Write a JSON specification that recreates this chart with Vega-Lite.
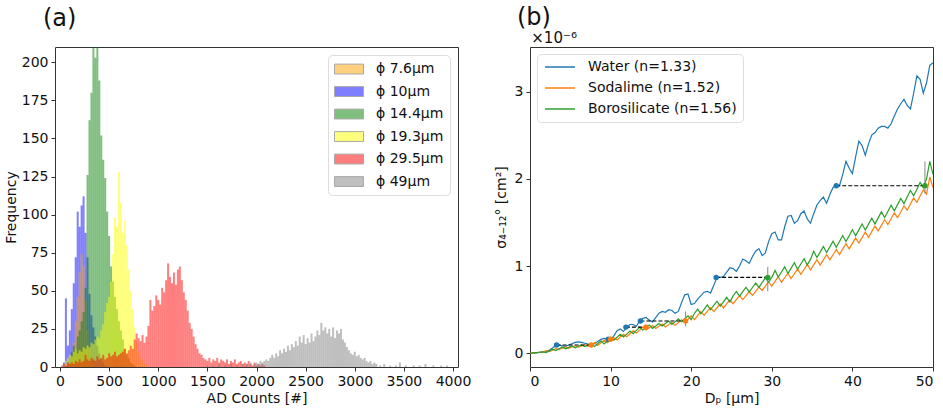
{
"$schema": "https://vega.github.io/schema/vega-lite/v6.json",
"background": "white",
"padding": {"left": 3, "top": 5, "right": 0, "bottom": 5},
"spacing": 21,
"config": {
  "font": "DejaVu Sans",
  "view": {"stroke": "#333", "strokeWidth": 1},
  "axis": {"grid": false, "domain": false, "tickColor": "#333", "tickSize": 4, "labelFontSize": 14, "labelColor": "#111", "titleFontSize": 14, "titleFontWeight": "normal", "titleColor": "#111", "labelPadding": 3, "titlePadding": 4},
  "title": {"fontWeight": "normal", "color": "#111", "subtitleColor": "#111"}
},
"datasets": {
  "hist": [
{"d":"10","b":40,"c":3},{"d":"10","b":60,"c":45},{"d":"10","b":80,"c":14},{"d":"10","b":100,"c":24},{"d":"10","b":120,"c":38},{"d":"10","b":140,"c":55},{"d":"10","b":160,"c":72},{"d":"10","b":180,"c":102},{"d":"10","b":200,"c":92},{"d":"10","b":220,"c":106},{"d":"10","b":240,"c":112},{"d":"10","b":260,"c":88},{"d":"10","b":280,"c":72},{"d":"10","b":300,"c":48},{"d":"10","b":320,"c":34},{"d":"10","b":340,"c":26},{"d":"10","b":360,"c":20},{"d":"10","b":380,"c":14},{"d":"10","b":400,"c":9},{"d":"10","b":420,"c":5},{"d":"10","b":440,"c":3},{"d":"10","b":460,"c":1},
{"d":"7.6","b":100,"c":4},{"d":"7.6","b":120,"c":8},{"d":"7.6","b":140,"c":16},{"d":"7.6","b":160,"c":30},{"d":"7.6","b":180,"c":46},{"d":"7.6","b":200,"c":62},{"d":"7.6","b":220,"c":74},{"d":"7.6","b":240,"c":66},{"d":"7.6","b":260,"c":44},{"d":"7.6","b":280,"c":24},{"d":"7.6","b":300,"c":12},{"d":"7.6","b":320,"c":6},{"d":"7.6","b":340,"c":2},
{"d":"14.4","b":80,"c":3},{"d":"14.4","b":100,"c":6},{"d":"14.4","b":120,"c":10},{"d":"14.4","b":140,"c":14},{"d":"14.4","b":160,"c":12},{"d":"14.4","b":180,"c":20},{"d":"14.4","b":200,"c":24},{"d":"14.4","b":220,"c":30},{"d":"14.4","b":240,"c":36},{"d":"14.4","b":260,"c":52},{"d":"14.4","b":280,"c":126},{"d":"14.4","b":300,"c":162},{"d":"14.4","b":320,"c":180},{"d":"14.4","b":340,"c":215},{"d":"14.4","b":360,"c":203},{"d":"14.4","b":380,"c":215},{"d":"14.4","b":400,"c":188},{"d":"14.4","b":420,"c":152},{"d":"14.4","b":440,"c":136},{"d":"14.4","b":460,"c":124},{"d":"14.4","b":480,"c":102},{"d":"14.4","b":500,"c":86},{"d":"14.4","b":520,"c":66},{"d":"14.4","b":540,"c":56},{"d":"14.4","b":560,"c":46},{"d":"14.4","b":580,"c":38},{"d":"14.4","b":600,"c":30},{"d":"14.4","b":620,"c":24},{"d":"14.4","b":640,"c":18},{"d":"14.4","b":660,"c":12},{"d":"14.4","b":680,"c":8},{"d":"14.4","b":700,"c":6},{"d":"14.4","b":720,"c":3},{"d":"14.4","b":740,"c":2},{"d":"14.4","b":760,"c":1},
{"d":"19.3","b":40,"c":2},{"d":"19.3","b":60,"c":4},{"d":"19.3","b":80,"c":6},{"d":"19.3","b":100,"c":8},{"d":"19.3","b":120,"c":7},{"d":"19.3","b":140,"c":10},{"d":"19.3","b":160,"c":12},{"d":"19.3","b":180,"c":9},{"d":"19.3","b":200,"c":11},{"d":"19.3","b":220,"c":10},{"d":"19.3","b":240,"c":13},{"d":"19.3","b":260,"c":12},{"d":"19.3","b":280,"c":14},{"d":"19.3","b":300,"c":13},{"d":"19.3","b":320,"c":16},{"d":"19.3","b":340,"c":15},{"d":"19.3","b":360,"c":18},{"d":"19.3","b":380,"c":20},{"d":"19.3","b":400,"c":19},{"d":"19.3","b":420,"c":24},{"d":"19.3","b":440,"c":28},{"d":"19.3","b":460,"c":36},{"d":"19.3","b":480,"c":42},{"d":"19.3","b":500,"c":46},{"d":"19.3","b":520,"c":56},{"d":"19.3","b":540,"c":74},{"d":"19.3","b":560,"c":98},{"d":"19.3","b":580,"c":92},{"d":"19.3","b":600,"c":128},{"d":"19.3","b":620,"c":108},{"d":"19.3","b":640,"c":88},{"d":"19.3","b":660,"c":96},{"d":"19.3","b":680,"c":80},{"d":"19.3","b":700,"c":64},{"d":"19.3","b":720,"c":50},{"d":"19.3","b":740,"c":38},{"d":"19.3","b":760,"c":26},{"d":"19.3","b":780,"c":16},{"d":"19.3","b":800,"c":10},{"d":"19.3","b":820,"c":6},{"d":"19.3","b":840,"c":4},{"d":"19.3","b":860,"c":2},{"d":"19.3","b":880,"c":1},
{"d":"29.5","b":20,"c":1},{"d":"29.5","b":40,"c":2},{"d":"29.5","b":60,"c":1},{"d":"29.5","b":80,"c":3},{"d":"29.5","b":100,"c":2},{"d":"29.5","b":120,"c":3},{"d":"29.5","b":140,"c":2},{"d":"29.5","b":160,"c":4},{"d":"29.5","b":180,"c":3},{"d":"29.5","b":200,"c":5},{"d":"29.5","b":220,"c":3},{"d":"29.5","b":240,"c":4},{"d":"29.5","b":260,"c":8},{"d":"29.5","b":280,"c":5},{"d":"29.5","b":300,"c":4},{"d":"29.5","b":320,"c":6},{"d":"29.5","b":340,"c":5},{"d":"29.5","b":360,"c":4},{"d":"29.5","b":380,"c":7},{"d":"29.5","b":400,"c":5},{"d":"29.5","b":420,"c":6},{"d":"29.5","b":440,"c":8},{"d":"29.5","b":460,"c":5},{"d":"29.5","b":480,"c":6},{"d":"29.5","b":500,"c":9},{"d":"29.5","b":520,"c":7},{"d":"29.5","b":540,"c":8},{"d":"29.5","b":560,"c":10},{"d":"29.5","b":580,"c":7},{"d":"29.5","b":600,"c":8},{"d":"29.5","b":620,"c":9},{"d":"29.5","b":640,"c":10},{"d":"29.5","b":660,"c":12},{"d":"29.5","b":680,"c":9},{"d":"29.5","b":700,"c":11},{"d":"29.5","b":720,"c":14},{"d":"29.5","b":740,"c":12},{"d":"29.5","b":760,"c":18},{"d":"29.5","b":780,"c":22},{"d":"29.5","b":800,"c":19},{"d":"29.5","b":820,"c":17},{"d":"29.5","b":840,"c":21},{"d":"29.5","b":860,"c":16},{"d":"29.5","b":880,"c":20},{"d":"29.5","b":900,"c":27},{"d":"29.5","b":920,"c":44},{"d":"29.5","b":940,"c":37},{"d":"29.5","b":960,"c":40},{"d":"29.5","b":980,"c":47},{"d":"29.5","b":1000,"c":44},{"d":"29.5","b":1020,"c":41},{"d":"29.5","b":1040,"c":52},{"d":"29.5","b":1060,"c":49},{"d":"29.5","b":1080,"c":57},{"d":"29.5","b":1100,"c":68},{"d":"29.5","b":1120,"c":59},{"d":"29.5","b":1140,"c":55},{"d":"29.5","b":1160,"c":62},{"d":"29.5","b":1180,"c":54},{"d":"29.5","b":1200,"c":64},{"d":"29.5","b":1220,"c":66},{"d":"29.5","b":1240,"c":57},{"d":"29.5","b":1260,"c":49},{"d":"29.5","b":1280,"c":44},{"d":"29.5","b":1300,"c":37},{"d":"29.5","b":1320,"c":29},{"d":"29.5","b":1340,"c":25},{"d":"29.5","b":1360,"c":20},{"d":"29.5","b":1380,"c":15},{"d":"29.5","b":1400,"c":12},{"d":"29.5","b":1420,"c":9},{"d":"29.5","b":1440,"c":8},{"d":"29.5","b":1460,"c":6},{"d":"29.5","b":1480,"c":5},{"d":"29.5","b":1500,"c":4},{"d":"29.5","b":1520,"c":6},{"d":"29.5","b":1540,"c":3},{"d":"29.5","b":1560,"c":5},{"d":"29.5","b":1580,"c":4},{"d":"29.5","b":1600,"c":6},{"d":"29.5","b":1620,"c":3},{"d":"29.5","b":1640,"c":5},{"d":"29.5","b":1660,"c":4},{"d":"29.5","b":1680,"c":3},{"d":"29.5","b":1700,"c":5},{"d":"29.5","b":1720,"c":2},{"d":"29.5","b":1740,"c":4},{"d":"29.5","b":1760,"c":3},{"d":"29.5","b":1780,"c":5},{"d":"29.5","b":1800,"c":2},{"d":"29.5","b":1820,"c":3},{"d":"29.5","b":1840,"c":4},{"d":"29.5","b":1860,"c":2},{"d":"29.5","b":1880,"c":3},{"d":"29.5","b":1900,"c":2},{"d":"29.5","b":1920,"c":4},{"d":"29.5","b":1940,"c":2},{"d":"29.5","b":1960,"c":1},{"d":"29.5","b":1980,"c":3},{"d":"29.5","b":2000,"c":1},{"d":"29.5","b":2020,"c":2},{"d":"29.5","b":2040,"c":1},{"d":"29.5","b":2060,"c":2},{"d":"29.5","b":2080,"c":1},
{"d":"49","b":1500,"c":1},{"d":"49","b":1560,"c":1},{"d":"49","b":1620,"c":2},{"d":"49","b":1680,"c":1},{"d":"49","b":1740,"c":2},{"d":"49","b":1800,"c":1},{"d":"49","b":1860,"c":2},{"d":"49","b":1900,"c":2},{"d":"49","b":1940,"c":3},{"d":"49","b":1980,"c":2},{"d":"49","b":2000,"c":3},{"d":"49","b":2020,"c":2},{"d":"49","b":2040,"c":4},{"d":"49","b":2060,"c":3},{"d":"49","b":2080,"c":4},{"d":"49","b":2100,"c":5},{"d":"49","b":2120,"c":4},{"d":"49","b":2140,"c":6},{"d":"49","b":2160,"c":8},{"d":"49","b":2180,"c":6},{"d":"49","b":2200,"c":9},{"d":"49","b":2220,"c":7},{"d":"49","b":2240,"c":11},{"d":"49","b":2260,"c":9},{"d":"49","b":2280,"c":12},{"d":"49","b":2300,"c":10},{"d":"49","b":2320,"c":14},{"d":"49","b":2340,"c":11},{"d":"49","b":2360,"c":15},{"d":"49","b":2380,"c":13},{"d":"49","b":2400,"c":17},{"d":"49","b":2420,"c":14},{"d":"49","b":2440,"c":20},{"d":"49","b":2460,"c":16},{"d":"49","b":2480,"c":21},{"d":"49","b":2500,"c":15},{"d":"49","b":2520,"c":19},{"d":"49","b":2540,"c":16},{"d":"49","b":2560,"c":22},{"d":"49","b":2580,"c":17},{"d":"49","b":2600,"c":20},{"d":"49","b":2620,"c":24},{"d":"49","b":2640,"c":21},{"d":"49","b":2660,"c":29},{"d":"49","b":2680,"c":24},{"d":"49","b":2700,"c":26},{"d":"49","b":2720,"c":22},{"d":"49","b":2740,"c":25},{"d":"49","b":2760,"c":20},{"d":"49","b":2780,"c":26},{"d":"49","b":2800,"c":19},{"d":"49","b":2820,"c":24},{"d":"49","b":2840,"c":22},{"d":"49","b":2860,"c":25},{"d":"49","b":2880,"c":18},{"d":"49","b":2900,"c":16},{"d":"49","b":2920,"c":13},{"d":"49","b":2940,"c":11},{"d":"49","b":2960,"c":9},{"d":"49","b":2980,"c":8},{"d":"49","b":3000,"c":10},{"d":"49","b":3020,"c":7},{"d":"49","b":3040,"c":8},{"d":"49","b":3060,"c":6},{"d":"49","b":3080,"c":5},{"d":"49","b":3100,"c":6},{"d":"49","b":3120,"c":4},{"d":"49","b":3140,"c":3},{"d":"49","b":3160,"c":4},{"d":"49","b":3180,"c":2},{"d":"49","b":3200,"c":3},{"d":"49","b":3220,"c":2},{"d":"49","b":3260,"c":1},{"d":"49","b":3300,"c":2},{"d":"49","b":3360,"c":1},{"d":"49","b":3420,"c":1},{"d":"49","b":3460,"c":3},{"d":"49","b":3520,"c":1},{"d":"49","b":3600,"c":1},{"d":"49","b":3660,"c":1},{"d":"49","b":3720,"c":2},{"d":"49","b":3800,"c":1},{"d":"49","b":3880,"c":1},{"d":"49","b":3940,"c":1}
  ],
  "curves": [
{"s":"W","x":0,"y":0},{"s":"W","x":0.4,"y":0.002},{"s":"W","x":0.8,"y":0.005},{"s":"W","x":1.2,"y":0.01},{"s":"W","x":1.6,"y":0.015},{"s":"W","x":2,"y":0.02},{"s":"W","x":2.4,"y":0.035},{"s":"W","x":2.8,"y":0.06},{"s":"W","x":3.2,"y":0.09},{"s":"W","x":3.6,"y":0.095},{"s":"W","x":4,"y":0.085},{"s":"W","x":4.4,"y":0.08},{"s":"W","x":4.8,"y":0.095},{"s":"W","x":5.2,"y":0.11},{"s":"W","x":5.6,"y":0.125},{"s":"W","x":6,"y":0.13},{"s":"W","x":6.4,"y":0.125},{"s":"W","x":6.8,"y":0.115},{"s":"W","x":7.2,"y":0.105},{"s":"W","x":7.6,"y":0.1},{"s":"W","x":8,"y":0.11},{"s":"W","x":8.4,"y":0.135},{"s":"W","x":8.8,"y":0.16},{"s":"W","x":9.2,"y":0.17},{"s":"W","x":9.6,"y":0.16},{"s":"W","x":10,"y":0.155},{"s":"W","x":10.4,"y":0.2},{"s":"W","x":10.8,"y":0.26},{"s":"W","x":11.2,"y":0.28},{"s":"W","x":11.6,"y":0.25},{"s":"W","x":12,"y":0.3},{"s":"W","x":12.4,"y":0.33},{"s":"W","x":12.8,"y":0.33},{"s":"W","x":13.2,"y":0.31},{"s":"W","x":13.6,"y":0.37},{"s":"W","x":14,"y":0.4},{"s":"W","x":14.4,"y":0.41},{"s":"W","x":14.8,"y":0.38},{"s":"W","x":15.2,"y":0.36},{"s":"W","x":15.6,"y":0.41},{"s":"W","x":16,"y":0.46},{"s":"W","x":16.4,"y":0.48},{"s":"W","x":16.8,"y":0.47},{"s":"W","x":17.2,"y":0.5},{"s":"W","x":17.6,"y":0.49},{"s":"W","x":18,"y":0.46},{"s":"W","x":18.4,"y":0.48},{"s":"W","x":18.8,"y":0.58},{"s":"W","x":19.2,"y":0.67},{"s":"W","x":19.6,"y":0.68},{"s":"W","x":20,"y":0.56},{"s":"W","x":20.4,"y":0.57},{"s":"W","x":20.8,"y":0.62},{"s":"W","x":21.2,"y":0.66},{"s":"W","x":21.6,"y":0.7},{"s":"W","x":22,"y":0.71},{"s":"W","x":22.4,"y":0.69},{"s":"W","x":22.8,"y":0.78},{"s":"W","x":23.2,"y":0.87},{"s":"W","x":23.6,"y":0.87},{"s":"W","x":24,"y":0.88},{"s":"W","x":24.4,"y":0.93},{"s":"W","x":24.8,"y":0.98},{"s":"W","x":25.2,"y":0.97},{"s":"W","x":25.6,"y":0.94},{"s":"W","x":26,"y":1.0},{"s":"W","x":26.4,"y":1.08},{"s":"W","x":26.8,"y":1.06},{"s":"W","x":27.2,"y":1.03},{"s":"W","x":27.6,"y":1.11},{"s":"W","x":28,"y":1.17},{"s":"W","x":28.4,"y":1.2},{"s":"W","x":28.8,"y":1.12},{"s":"W","x":29.2,"y":1.15},{"s":"W","x":29.6,"y":1.28},{"s":"W","x":30,"y":1.37},{"s":"W","x":30.4,"y":1.39},{"s":"W","x":30.8,"y":1.3},{"s":"W","x":31.2,"y":1.3},{"s":"W","x":31.6,"y":1.45},{"s":"W","x":32,"y":1.57},{"s":"W","x":32.4,"y":1.58},{"s":"W","x":32.8,"y":1.49},{"s":"W","x":33.2,"y":1.52},{"s":"W","x":33.6,"y":1.6},{"s":"W","x":34,"y":1.63},{"s":"W","x":34.4,"y":1.54},{"s":"W","x":34.8,"y":1.49},{"s":"W","x":35.2,"y":1.6},{"s":"W","x":35.6,"y":1.7},{"s":"W","x":36,"y":1.75},{"s":"W","x":36.4,"y":1.79},{"s":"W","x":36.8,"y":1.72},{"s":"W","x":37.2,"y":1.82},{"s":"W","x":37.6,"y":1.9},{"s":"W","x":38,"y":1.93},{"s":"W","x":38.4,"y":1.92},{"s":"W","x":38.8,"y":2.05},{"s":"W","x":39.2,"y":2.2},{"s":"W","x":39.6,"y":2.12},{"s":"W","x":40,"y":2.06},{"s":"W","x":40.4,"y":2.25},{"s":"W","x":40.8,"y":2.43},{"s":"W","x":41.2,"y":2.38},{"s":"W","x":41.6,"y":2.27},{"s":"W","x":42,"y":2.4},{"s":"W","x":42.4,"y":2.5},{"s":"W","x":42.8,"y":2.53},{"s":"W","x":43.2,"y":2.58},{"s":"W","x":43.6,"y":2.6},{"s":"W","x":44,"y":2.6},{"s":"W","x":44.4,"y":2.58},{"s":"W","x":44.8,"y":2.63},{"s":"W","x":45.2,"y":2.72},{"s":"W","x":45.6,"y":2.8},{"s":"W","x":46,"y":2.86},{"s":"W","x":46.4,"y":2.91},{"s":"W","x":46.8,"y":2.84},{"s":"W","x":47.2,"y":2.8},{"s":"W","x":47.6,"y":2.98},{"s":"W","x":48,"y":3.18},{"s":"W","x":48.4,"y":3.14},{"s":"W","x":48.8,"y":2.98},{"s":"W","x":49.2,"y":3.1},{"s":"W","x":49.6,"y":3.3},{"s":"W","x":50,"y":3.33},
{"s":"S","x":0,"y":0},{"s":"S","x":0.4,"y":0.004},{"s":"S","x":0.8,"y":0.008},{"s":"S","x":1.2,"y":0.012},{"s":"S","x":1.6,"y":0.016},{"s":"S","x":2,"y":0.03},{"s":"S","x":2.4,"y":0.018},{"s":"S","x":2.8,"y":0.036},{"s":"S","x":3.2,"y":0.054},{"s":"S","x":3.6,"y":0.042},{"s":"S","x":4,"y":0.06},{"s":"S","x":4.4,"y":0.074},{"s":"S","x":4.8,"y":0.058},{"s":"S","x":5.2,"y":0.072},{"s":"S","x":5.6,"y":0.086},{"s":"S","x":6,"y":0.07},{"s":"S","x":6.4,"y":0.084},{"s":"S","x":6.8,"y":0.098},{"s":"S","x":7.2,"y":0.082},{"s":"S","x":7.6,"y":0.096},{"s":"S","x":8,"y":0.12},{"s":"S","x":8.4,"y":0.09},{"s":"S","x":8.8,"y":0.12},{"s":"S","x":9.2,"y":0.15},{"s":"S","x":9.6,"y":0.12},{"s":"S","x":10,"y":0.15},{"s":"S","x":10.4,"y":0.182},{"s":"S","x":10.8,"y":0.154},{"s":"S","x":11.2,"y":0.186},{"s":"S","x":11.6,"y":0.218},{"s":"S","x":12,"y":0.19},{"s":"S","x":12.4,"y":0.224},{"s":"S","x":12.8,"y":0.258},{"s":"S","x":13.2,"y":0.232},{"s":"S","x":13.6,"y":0.266},{"s":"S","x":14,"y":0.3},{"s":"S","x":14.4,"y":0.266},{"s":"S","x":14.8,"y":0.292},{"s":"S","x":15.2,"y":0.318},{"s":"S","x":15.6,"y":0.284},{"s":"S","x":16,"y":0.31},{"s":"S","x":16.4,"y":0.336},{"s":"S","x":16.8,"y":0.302},{"s":"S","x":17.2,"y":0.328},{"s":"S","x":17.6,"y":0.354},{"s":"S","x":18,"y":0.32},{"s":"S","x":18.4,"y":0.352},{"s":"S","x":18.8,"y":0.384},{"s":"S","x":19.2,"y":0.356},{"s":"S","x":19.6,"y":0.388},{"s":"S","x":20,"y":0.43},{"s":"S","x":20.4,"y":0.386},{"s":"S","x":20.8,"y":0.432},{"s":"S","x":21.2,"y":0.478},{"s":"S","x":21.6,"y":0.434},{"s":"S","x":22,"y":0.48},{"s":"S","x":22.4,"y":0.524},{"s":"S","x":22.8,"y":0.478},{"s":"S","x":23.2,"y":0.522},{"s":"S","x":23.6,"y":0.566},{"s":"S","x":24,"y":0.52},{"s":"S","x":24.4,"y":0.566},{"s":"S","x":24.8,"y":0.612},{"s":"S","x":25.2,"y":0.568},{"s":"S","x":25.6,"y":0.614},{"s":"S","x":26,"y":0.66},{"s":"S","x":26.4,"y":0.616},{"s":"S","x":26.8,"y":0.662},{"s":"S","x":27.2,"y":0.708},{"s":"S","x":27.6,"y":0.664},{"s":"S","x":28,"y":0.71},{"s":"S","x":28.4,"y":0.76},{"s":"S","x":28.8,"y":0.72},{"s":"S","x":29.2,"y":0.77},{"s":"S","x":29.6,"y":0.82},{"s":"S","x":30,"y":0.77},{"s":"S","x":30.4,"y":0.824},{"s":"S","x":30.8,"y":0.878},{"s":"S","x":31.2,"y":0.812},{"s":"S","x":31.6,"y":0.866},{"s":"S","x":32,"y":0.92},{"s":"S","x":32.4,"y":0.856},{"s":"S","x":32.8,"y":0.912},{"s":"S","x":33.2,"y":0.968},{"s":"S","x":33.6,"y":0.904},{"s":"S","x":34,"y":0.96},{"s":"S","x":34.4,"y":1.018},{"s":"S","x":34.8,"y":0.956},{"s":"S","x":35.2,"y":1.014},{"s":"S","x":35.6,"y":1.072},{"s":"S","x":36,"y":1.01},{"s":"S","x":36.4,"y":1.07},{"s":"S","x":36.8,"y":1.13},{"s":"S","x":37.2,"y":1.07},{"s":"S","x":37.6,"y":1.13},{"s":"S","x":38,"y":1.19},{"s":"S","x":38.4,"y":1.132},{"s":"S","x":38.8,"y":1.194},{"s":"S","x":39.2,"y":1.256},{"s":"S","x":39.6,"y":1.198},{"s":"S","x":40,"y":1.26},{"s":"S","x":40.4,"y":1.322},{"s":"S","x":40.8,"y":1.264},{"s":"S","x":41.2,"y":1.326},{"s":"S","x":41.6,"y":1.388},{"s":"S","x":42,"y":1.33},{"s":"S","x":42.4,"y":1.394},{"s":"S","x":42.8,"y":1.458},{"s":"S","x":43.2,"y":1.402},{"s":"S","x":43.6,"y":1.466},{"s":"S","x":44,"y":1.53},{"s":"S","x":44.4,"y":1.476},{"s":"S","x":44.8,"y":1.542},{"s":"S","x":45.2,"y":1.608},{"s":"S","x":45.6,"y":1.554},{"s":"S","x":46,"y":1.62},{"s":"S","x":46.4,"y":1.69},{"s":"S","x":46.8,"y":1.64},{"s":"S","x":47.2,"y":1.71},{"s":"S","x":47.6,"y":1.78},{"s":"S","x":48,"y":1.73},{"s":"S","x":48.4,"y":1.802},{"s":"S","x":48.8,"y":1.874},{"s":"S","x":49.2,"y":1.826},{"s":"S","x":49.6,"y":2.02},{"s":"S","x":50,"y":1.9},
{"s":"B","x":0,"y":0},{"s":"B","x":0.4,"y":0.004},{"s":"B","x":0.8,"y":0.008},{"s":"B","x":1.2,"y":0.012},{"s":"B","x":1.6,"y":0.016},{"s":"B","x":2,"y":0.008},{"s":"B","x":2.4,"y":0.028},{"s":"B","x":2.8,"y":0.048},{"s":"B","x":3.2,"y":0.032},{"s":"B","x":3.6,"y":0.052},{"s":"B","x":4,"y":0.072},{"s":"B","x":4.4,"y":0.052},{"s":"B","x":4.8,"y":0.068},{"s":"B","x":5.2,"y":0.084},{"s":"B","x":5.6,"y":0.064},{"s":"B","x":6,"y":0.08},{"s":"B","x":6.4,"y":0.096},{"s":"B","x":6.8,"y":0.076},{"s":"B","x":7.2,"y":0.092},{"s":"B","x":7.6,"y":0.108},{"s":"B","x":8,"y":0.078},{"s":"B","x":8.4,"y":0.11},{"s":"B","x":8.8,"y":0.142},{"s":"B","x":9.2,"y":0.108},{"s":"B","x":9.6,"y":0.14},{"s":"B","x":10,"y":0.182},{"s":"B","x":10.4,"y":0.15},{"s":"B","x":10.8,"y":0.184},{"s":"B","x":11.2,"y":0.218},{"s":"B","x":11.6,"y":0.186},{"s":"B","x":12,"y":0.22},{"s":"B","x":12.4,"y":0.256},{"s":"B","x":12.8,"y":0.226},{"s":"B","x":13.2,"y":0.262},{"s":"B","x":13.6,"y":0.298},{"s":"B","x":14,"y":0.268},{"s":"B","x":14.4,"y":0.296},{"s":"B","x":14.8,"y":0.324},{"s":"B","x":15.2,"y":0.286},{"s":"B","x":15.6,"y":0.314},{"s":"B","x":16,"y":0.342},{"s":"B","x":16.4,"y":0.314},{"s":"B","x":16.8,"y":0.342},{"s":"B","x":17.2,"y":0.37},{"s":"B","x":17.6,"y":0.332},{"s":"B","x":18,"y":0.36},{"s":"B","x":18.4,"y":0.394},{"s":"B","x":18.8,"y":0.362},{"s":"B","x":19.2,"y":0.396},{"s":"B","x":19.6,"y":0.43},{"s":"B","x":20,"y":0.385},{"s":"B","x":20.4,"y":0.456},{"s":"B","x":20.8,"y":0.507},{"s":"B","x":21.2,"y":0.453},{"s":"B","x":21.6,"y":0.504},{"s":"B","x":22,"y":0.555},{"s":"B","x":22.4,"y":0.499},{"s":"B","x":22.8,"y":0.548},{"s":"B","x":23.2,"y":0.597},{"s":"B","x":23.6,"y":0.541},{"s":"B","x":24,"y":0.59},{"s":"B","x":24.4,"y":0.641},{"s":"B","x":24.8,"y":0.587},{"s":"B","x":25.2,"y":0.658},{"s":"B","x":25.6,"y":0.709},{"s":"B","x":26,"y":0.655},{"s":"B","x":26.4,"y":0.706},{"s":"B","x":26.8,"y":0.757},{"s":"B","x":27.2,"y":0.703},{"s":"B","x":27.6,"y":0.754},{"s":"B","x":28,"y":0.805},{"s":"B","x":28.4,"y":0.755},{"s":"B","x":28.8,"y":0.81},{"s":"B","x":29.2,"y":0.865},{"s":"B","x":29.6,"y":0.815},{"s":"B","x":30,"y":0.87},{"s":"B","x":30.4,"y":0.949},{"s":"B","x":30.8,"y":0.873},{"s":"B","x":31.2,"y":0.932},{"s":"B","x":31.6,"y":0.991},{"s":"B","x":32,"y":0.915},{"s":"B","x":32.4,"y":0.976},{"s":"B","x":32.8,"y":1.037},{"s":"B","x":33.2,"y":0.963},{"s":"B","x":33.6,"y":1.024},{"s":"B","x":34,"y":1.085},{"s":"B","x":34.4,"y":1.013},{"s":"B","x":34.8,"y":1.076},{"s":"B","x":35.2,"y":1.169},{"s":"B","x":35.6,"y":1.097},{"s":"B","x":36,"y":1.16},{"s":"B","x":36.4,"y":1.225},{"s":"B","x":36.8,"y":1.155},{"s":"B","x":37.2,"y":1.22},{"s":"B","x":37.6,"y":1.285},{"s":"B","x":38,"y":1.215},{"s":"B","x":38.4,"y":1.282},{"s":"B","x":38.8,"y":1.349},{"s":"B","x":39.2,"y":1.281},{"s":"B","x":39.6,"y":1.348},{"s":"B","x":40,"y":1.415},{"s":"B","x":40.4,"y":1.347},{"s":"B","x":40.8,"y":1.414},{"s":"B","x":41.2,"y":1.481},{"s":"B","x":41.6,"y":1.413},{"s":"B","x":42,"y":1.48},{"s":"B","x":42.4,"y":1.549},{"s":"B","x":42.8,"y":1.483},{"s":"B","x":43.2,"y":1.552},{"s":"B","x":43.6,"y":1.621},{"s":"B","x":44,"y":1.555},{"s":"B","x":44.4,"y":1.626},{"s":"B","x":44.8,"y":1.697},{"s":"B","x":45.2,"y":1.633},{"s":"B","x":45.6,"y":1.704},{"s":"B","x":46,"y":1.775},{"s":"B","x":46.4,"y":1.715},{"s":"B","x":46.8,"y":1.79},{"s":"B","x":47.2,"y":1.865},{"s":"B","x":47.6,"y":1.805},{"s":"B","x":48,"y":1.88},{"s":"B","x":48.4,"y":1.957},{"s":"B","x":48.8,"y":1.899},{"s":"B","x":49.2,"y":2.0},{"s":"B","x":49.6,"y":2.2},{"s":"B","x":50,"y":2.05}
  ],
  "dash": [
{"x":3.3,"x2":7.6,"y":0.095},{"x":9.7,"x2":10.0,"y":0.16},{"x":11.9,"x2":14.4,"y":0.30},{"x":13.7,"x2":19.3,"y":0.37},{"x":23.1,"x2":29.5,"y":0.87},{"x":38.0,"x2":49.0,"y":1.92}
  ],
  "err": [
{"x":7.6,"y":0.08,"y2":0.11},{"x":10.0,"y":0.14,"y2":0.18},{"x":14.4,"y":0.27,"y2":0.33},{"x":19.3,"y":0.31,"y2":0.48},{"x":29.5,"y":0.71,"y2":0.99},{"x":49.0,"y":1.83,"y2":2.2}
  ],
  "pts": [
{"m":"W","x":3.3,"y":0.095},{"m":"W","x":9.7,"y":0.16},{"m":"W","x":11.9,"y":0.30},{"m":"W","x":13.7,"y":0.37},{"m":"W","x":23.1,"y":0.87},{"m":"W","x":38.0,"y":1.92},
{"m":"S","x":7.6,"y":0.095},{"m":"S","x":10.0,"y":0.16},{"m":"S","x":14.4,"y":0.30},{"m":"S","x":19.3,"y":0.37},
{"m":"B","x":29.5,"y":0.87},{"m":"B","x":49.0,"y":1.92}
  ]
},
"hconcat": [
  {
    "width": 403, "height": 320,
    "title": {"text": "(a)", "anchor": "start", "frame": "group", "fontSize": 24, "dx": -12, "offset": 16},
    "data": {"name": "hist"},
    "mark": {"type": "bar", "size": 2, "opacity": 0.5, "clip": true},
    "encoding": {
      "x": {"field": "b", "type": "quantitative", "scale": {"domain": [0, 4000], "nice": false}, "axis": {"values": [0,500,1000,1500,2000,2500,3000,3500,4000], "format": "d", "title": "AD Counts [#]", "titlePadding": 3}},
      "y": {"field": "c", "type": "quantitative", "stack": null, "scale": {"domain": [0, 210], "nice": false}, "axis": {"values": [0,25,50,75,100,125,150,175,200], "title": "Frequency", "titlePadding": 3}},
      "color": {"field": "d", "type": "nominal",
        "scale": {"domain": ["7.6","10","14.4","19.3","29.5","49"], "range": ["#FFA500","#0000FF","#008000","#FFFF00","#FF0000","#808080"]},
        "legend": {"title": null, "orient": "top-right", "offset": 8, "fillColor": "white", "strokeColor": "#ddd", "cornerRadius": 4, "padding": 6,
          "symbolType": "M-1,-0.82H1V-0.14H-1Z", "symbolSize": 841, "symbolOpacity": 0.5, "symbolStrokeColor": "#555", "symbolStrokeWidth": 1,
          "labelFontSize": 14, "labelOffset": 12, "labelBaseline": "bottom", "rowPadding": 7.5, "labelColor": "#111",
          "labelExpr": "'ϕ ' + datum.label + 'µm'"}}
    }
  },
  {
    "width": 403, "height": 320,
    "title": {"text": "(b)", "subtitle": "\u200b\u00a0\u00a0\u00a0×10⁻⁶", "anchor": "start", "frame": "group", "fontSize": 24, "subtitleFontSize": 15, "subtitlePadding": 1, "dx": -13, "offset": 1},
    "encoding": {
      "x": {"field": "x", "type": "quantitative", "scale": {"domain": [0, 50], "nice": false}, "axis": {"values": [0,10,20,30,40,50], "title": "Dₚ [μm]", "titlePadding": 3}},
      "y": {"field": "y", "type": "quantitative", "scale": {"domain": [-0.157, 3.51], "nice": false, "zero": false}, "axis": {"values": [0,1,2,3], "title": "σ₄₋₁₂° [cm²]", "titlePadding": 6}}
    },
    "layer": [
      {"data": {"name": "curves"}, "mark": {"type": "line", "strokeWidth": 1.2, "clip": true},
        "encoding": {"color": {"field": "s", "type": "nominal",
          "scale": {"domain": ["W","S","B"], "range": ["#1f77b4","#ff7f0e","#2ca02c"]},
          "legend": {"title": null, "orient": "top-left", "offset": 7, "fillColor": "white", "strokeColor": "#ddd", "cornerRadius": 4, "padding": 6,
            "symbolType": "M-1,0H5", "symbolSize": 100, "symbolStrokeWidth": 1.5,
            "labelFontSize": 14, "labelOffset": 31, "rowPadding": 7, "labelColor": "#111",
            "labelExpr": "datum.label == 'W' ? 'Water (n=1.33)' : datum.label == 'S' ? 'Sodalime (n=1.52)' : 'Borosilicate (n=1.56)'"}}}},
      {"data": {"name": "err"}, "mark": {"type": "rule", "color": "#888", "strokeWidth": 1}, "encoding": {"y2": {"field": "y2"}}},
      {"data": {"name": "dash"}, "mark": {"type": "rule", "color": "black", "strokeDash": [4, 2], "strokeWidth": 1.2}, "encoding": {"x2": {"field": "x2"}}},
      {"data": {"name": "pts"}, "transform": [{"filter": "datum.m == 'W'"}], "mark": {"type": "point", "filled": true, "size": 30, "opacity": 1, "color": "#1f77b4"}, "encoding": {}},
      {"data": {"name": "pts"}, "transform": [{"filter": "datum.m == 'S'"}], "mark": {"type": "point", "filled": true, "size": 30, "opacity": 1, "color": "#ff7f0e"}, "encoding": {}},
      {"data": {"name": "pts"}, "transform": [{"filter": "datum.m == 'B'"}], "mark": {"type": "point", "filled": true, "size": 30, "opacity": 1, "color": "#2ca02c"}, "encoding": {}}
    ]
  }
],
"resolve": {"scale": {"color": "independent"}}
}
